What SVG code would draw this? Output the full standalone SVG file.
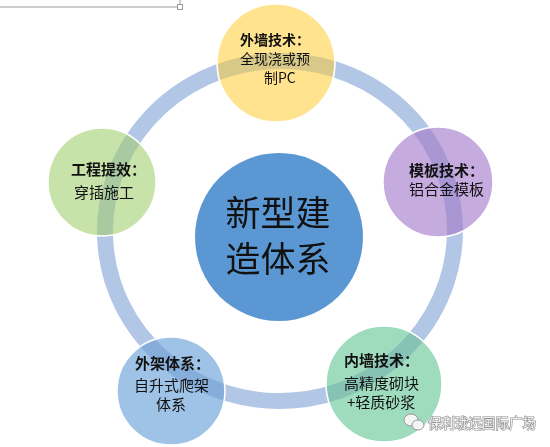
<svg xmlns="http://www.w3.org/2000/svg" xmlns:xlink="http://www.w3.org/1999/xlink" width="550" height="447" viewBox="0 0 550 447">
<style>
.t{font-family:"Noto Sans CJK SC","Noto Sans",sans-serif;font-size:15px;fill:#111}
.b{font-weight:bold}
.c{stroke:#fff;stroke-width:1.5}
.ring{fill:none;stroke:#b2c6e6;stroke-width:16}
</style>
<defs>
<ellipse id="ringshape" cx="280" cy="231" rx="175" ry="170" transform="rotate(-4 280 231)"/>
<clipPath id="cc">
<circle cx="276" cy="63" r="58"/>
<circle cx="438" cy="182" r="54"/>
<circle cx="102" cy="182" r="53"/>
<circle cx="171" cy="391" r="53"/>
<circle cx="384" cy="384" r="57"/>
</clipPath>
</defs>
<rect width="550" height="447" fill="#fff"/>
<g id="handle" stroke="#9a9a9a" stroke-width="1" fill="none">
<line x1="0" y1="7" x2="177" y2="7"/>
<line x1="180" y1="0" x2="180" y2="4.5"/>
<rect x="177.5" y="4.5" width="5" height="5" fill="#fff"/>
</g>
<g id="connectors">
<use xlink:href="#ringshape" class="ring"/>
</g>
<g id="center">
<circle cx="279" cy="237" r="84" fill="#5b98d3"/>
<text class="t" text-anchor="middle" style="font-size:35px"><tspan x="278" y="226">新型建</tspan><tspan x="278" y="272">造体系</tspan></text>
</g>
<g id="n-top">
<circle class="c" cx="276" cy="63" r="59" fill="#ffe38f"/>
</g>
<g id="n-right">
<circle class="c" cx="438" cy="182" r="55" fill="#c6abdf"/>
</g>
<g id="n-left">
<circle class="c" cx="102" cy="182" r="54" fill="#c8e3a9"/>
</g>
<g id="n-bl">
<circle class="c" cx="171" cy="391" r="54" fill="#9fc3e6"/>
</g>
<g id="n-br">
<circle class="c" cx="384" cy="384" r="58" fill="#9fdcbe"/>
</g>
<use xlink:href="#ringshape" class="ring" clip-path="url(#cc)" style="mix-blend-mode:multiply" opacity="0.5"/>
<g id="labels">
<text class="t" style="font-size:14px"><tspan class="b" x="240" y="45">外墙技术：</tspan><tspan x="240" y="64">全现浇或预</tspan><tspan x="264" y="83">制PC</tspan></text>
<text class="t"><tspan class="b" x="409" y="176">模板技术：</tspan><tspan x="409" y="195">铝合金模板</tspan></text>
<text class="t"><tspan class="b" x="71" y="175">工程提效：</tspan><tspan x="74" y="198">穿插施工</tspan></text>
<text class="t"><tspan class="b" x="135" y="369">外架体系：</tspan><tspan x="134" y="391">自升式爬架</tspan><tspan x="156" y="410">体系</tspan></text>
<text class="t"><tspan class="b" x="344" y="366">内墙技术：</tspan><tspan x="344" y="389">高精度砌块</tspan><tspan x="347" y="408">+轻质砂浆</tspan></text>
</g>
<g id="watermark">
<ellipse cx="411" cy="420" rx="7" ry="6" fill="#f4f4f4" stroke="#999" stroke-width="1"/>
<ellipse cx="418" cy="425" rx="6" ry="5" fill="#f4f4f4" stroke="#999" stroke-width="1"/>
<text x="428" y="428" style="font-family:'Noto Sans CJK SC',sans-serif;font-size:13.5px;fill:#eee;stroke:#8e8e8e;stroke-width:1.2px;paint-order:stroke">保利珑远国际广场</text>
</g>
</svg>
